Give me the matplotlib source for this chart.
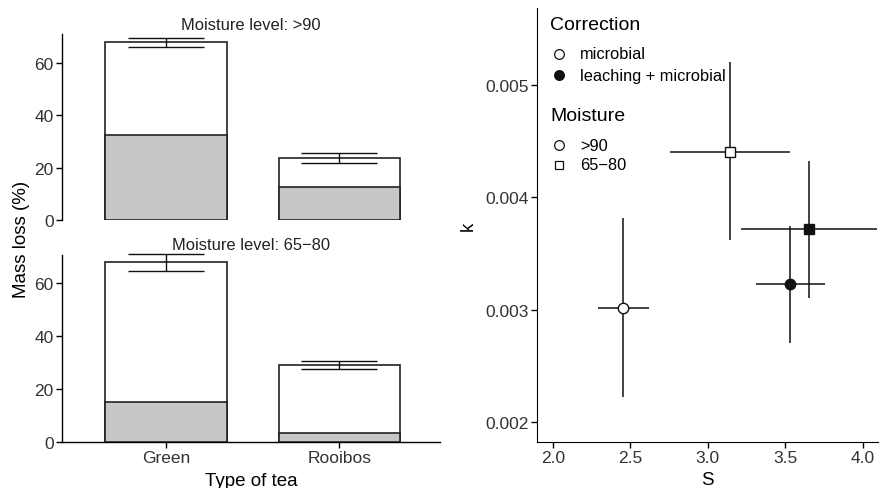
import matplotlib
matplotlib.use("Agg")
import matplotlib.pyplot as plt
import numpy as np

plt.rcParams['font.family'] = ['Liberation Sans', 'DejaVu Sans']

# ---- Data: bar panels ----
teas = ["Green", "Rooibos"]
moisture_levels = [">90", "65\u221280"]
# total mass loss (%) per moisture level
total_loss = {">90": [67.7, 23.7], "65\u221280": [67.9, 29.2]}
leach_loss = {">90": [32.4, 12.7], "65\u221280": [15.2, 3.3]}
err_low = {">90": [66.0, 21.9], "65\u221280": [64.7, 27.6]}
err_high = {">90": [69.4, 25.4], "65\u221280": [70.9, 30.6]}

# ---- Data: S vs k ----
corrections = ["microbial", "microbial", "leaching + microbial", "leaching + microbial"]
correction_levels = ["microbial", "leaching + microbial"]
moist_pts = [">90", "65\u221280", ">90", "65\u221280"]
S_vals = [2.45, 3.146, 3.53, 3.652]
S_low = [2.289, 2.758, 3.312, 3.217]
S_high = [2.618, 3.530, 3.754, 4.094]
k_vals = [0.003019, 0.004405, 0.003227, 0.003718]
k_low = [0.002222, 0.003623, 0.002708, 0.003105]
k_high = [0.003816, 0.005200, 0.003745, 0.004320]

GRAY = "#c6c7c9"
TXT = "#333333"
TICK_FS = 12.5

fig = plt.figure(figsize=(8.8, 4.89), dpi=100)
ax_top = fig.add_axes([0.0705, 0.548, 0.4295, 0.380])
ax_bot = fig.add_axes([0.0705, 0.094, 0.4295, 0.383])
ax_r = fig.add_axes([0.610, 0.0947, 0.388, 0.887])

x = np.arange(1, len(teas) + 1)
for ax, lev in zip([ax_top, ax_bot], moisture_levels):
    tot = np.array(total_loss[lev])
    lea = np.array(leach_loss[lev])
    lo = np.array(err_low[lev]); hi = np.array(err_high[lev])
    ax.bar(x, tot, width=0.7, color="white", edgecolor="#222222", linewidth=1.2, zorder=2)
    ax.bar(x, lea, width=0.7, color=GRAY, edgecolor="#222222", linewidth=1.2, zorder=3)
    eb = ax.errorbar(x, tot, yerr=[tot - lo, hi - tot], fmt="none", ecolor="#111111",
                     elinewidth=1.0, capsize=27.7, capthick=1.0, zorder=4)
    for art in eb.lines[1] + eb.lines[2]:
        art.set_clip_on(False)
    ax.set_xlim(0.4, 2.58)
    ax.set_ylim(0, 70.8)
    ax.set_yticks([0, 20, 40, 60])
    ax.spines["top"].set_visible(False)
    ax.spines["right"].set_visible(False)
    ax.spines["left"].set_linewidth(1.0)
    ax.spines["bottom"].set_linewidth(1.0)
    ax.tick_params(axis="y", labelsize=TICK_FS, labelcolor=TXT, length=4, width=1.0, pad=2)
    ax.set_title("Moisture level: " + lev, fontsize=11.9, color="#222222", pad=4)

ax_top.spines["bottom"].set_visible(False)
ax_top.set_xticks([])
ax_bot.set_xticks(x)
ax_bot.set_xticklabels(teas)
ax_bot.tick_params(axis="x", labelsize=TICK_FS, labelcolor=TXT, length=4, width=1.0, pad=2)
ax_bot.set_xlabel("Type of tea", fontsize=13.5, labelpad=4.5)
fig.text(0.024, 0.511, "Mass loss (%)", rotation=90, fontsize=13.5, va="center", ha="center")

# ---- right panel ----
for c, m, s, sl, sh, k, kl, kh in zip(corrections, moist_pts, S_vals, S_low, S_high,
                                       k_vals, k_low, k_high):
    ax_r.errorbar([s], [k], xerr=[[s - sl], [sh - s]], yerr=[[k - kl], [kh - k]],
                  fmt="none", ecolor="#111111", elinewidth=1.1, capsize=0, zorder=2)
    marker = "o" if m == ">90" else "s"
    face = "white" if c == "microbial" else "#111111"
    ax_r.plot([s], [k], marker=marker, markersize=7.5 if marker == "o" else 7,
              markerfacecolor=face, markeredgecolor="#111111", markeredgewidth=1.0,
              linestyle="none", zorder=3)

ax_r.set_xlim(1.897, 4.10)
ax_r.set_ylim(0.001828, 0.005683)
ax_r.set_xticks([2.0, 2.5, 3.0, 3.5, 4.0])
ax_r.set_xticklabels(["2.0", "2.5", "3.0", "3.5", "4.0"])
ax_r.set_yticks([0.002, 0.003, 0.004, 0.005])
ax_r.set_yticklabels(["0.002", "0.003", "0.004", "0.005"])
ax_r.spines["top"].set_visible(False)
ax_r.spines["right"].set_visible(False)
ax_r.tick_params(labelsize=TICK_FS, labelcolor=TXT, length=4, width=1.0, pad=2)
ax_r.set_xlabel("S", fontsize=13.5, labelpad=4.5)
ax_r.set_ylabel("k", fontsize=13.5, labelpad=6)

# ---- manual legends (axes coordinates) ----
tr = ax_r.transAxes
LEG_FS = 11.8
TITLE_FS = 14
mx, tx = 0.0653, 0.127
ax_r.text(0.039, 0.961, "Correction", transform=tr, fontsize=TITLE_FS, va="center", ha="left")
for yy, lab in zip([0.894, 0.845], correction_levels):
    face = "white" if lab == "microbial" else "#111111"
    ax_r.plot([mx], [yy], marker="o", markersize=7, markerfacecolor=face,
              markeredgecolor="#111111", markeredgewidth=0.9, linestyle="none",
              transform=tr, clip_on=False)
    ax_r.text(tx, yy, lab, transform=tr, fontsize=LEG_FS, va="center", ha="left")
ax_r.text(0.039, 0.753, "Moisture", transform=tr, fontsize=TITLE_FS, va="center", ha="left")
for yy, lab in zip([0.684, 0.638], moisture_levels):
    mk = "o" if lab == ">90" else "s"
    ax_r.plot([mx], [yy], marker=mk, markersize=7 if mk == "o" else 6.3, markerfacecolor="white",
              markeredgecolor="#111111", markeredgewidth=0.9, linestyle="none",
              transform=tr, clip_on=False)
    ax_r.text(tx, yy, lab, transform=tr, fontsize=LEG_FS, va="center", ha="left")

fig.savefig("out.png", dpi=100)
